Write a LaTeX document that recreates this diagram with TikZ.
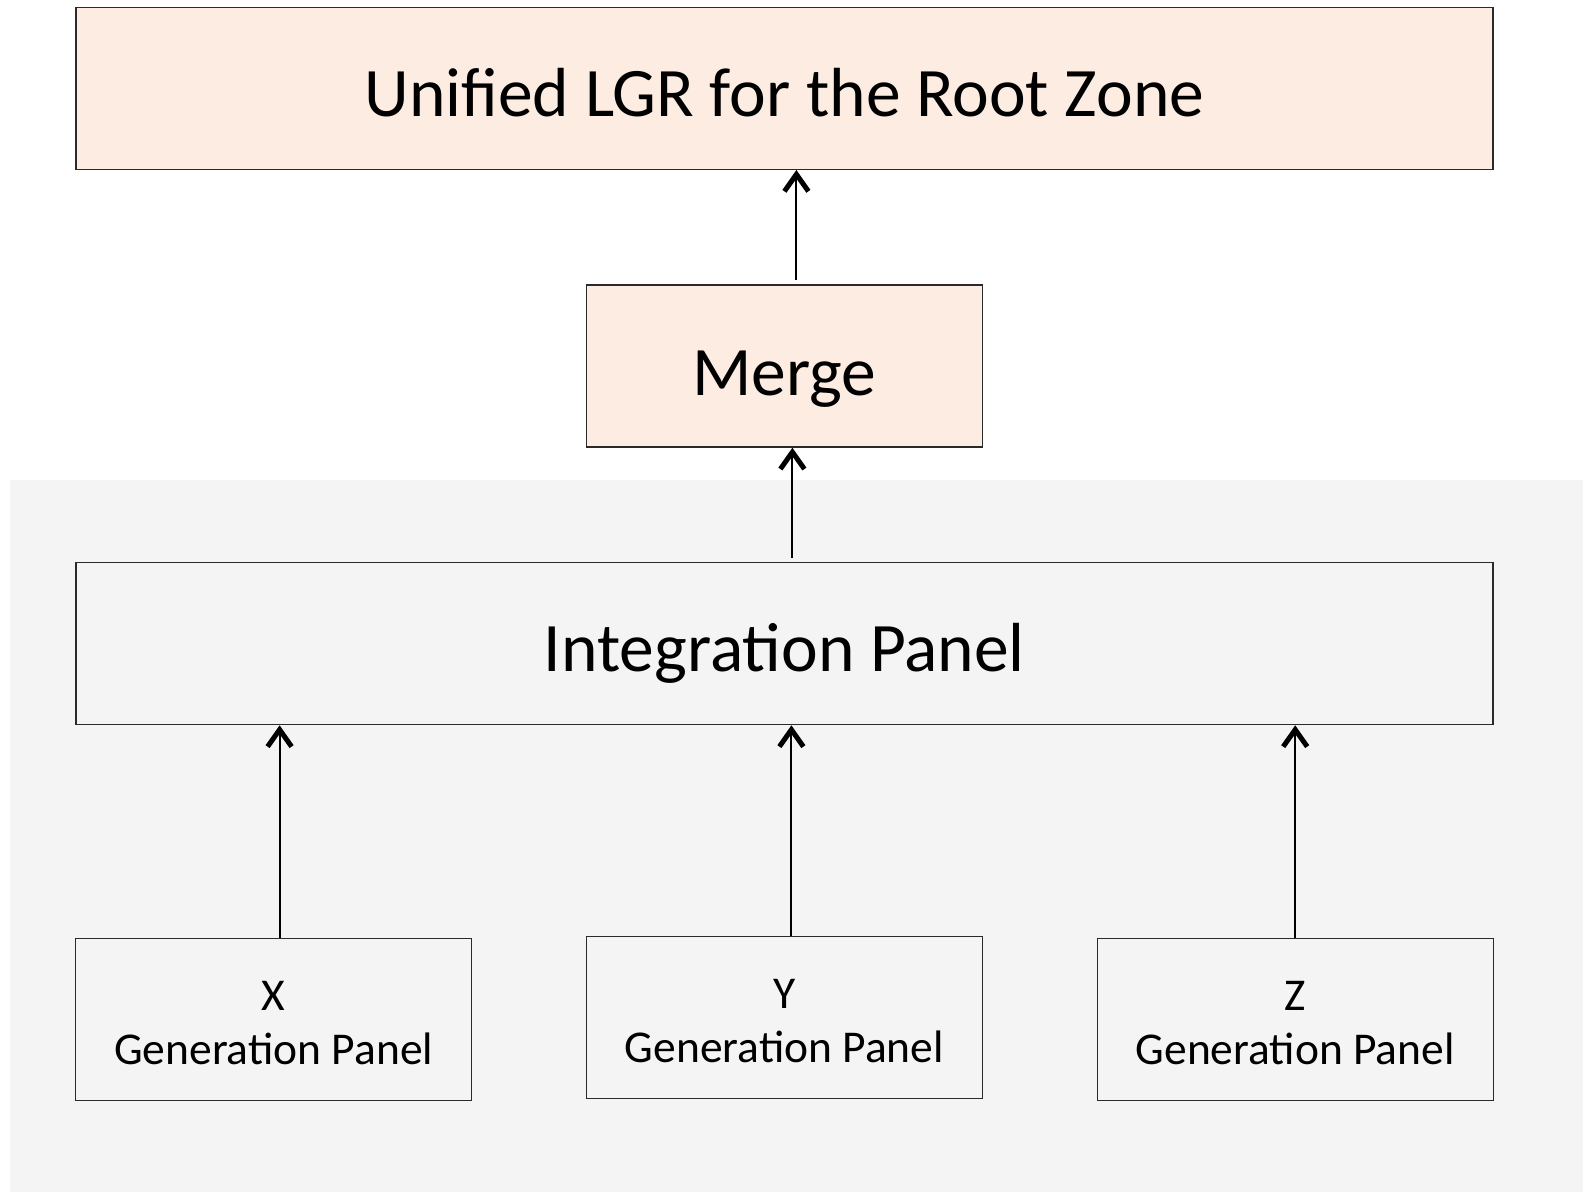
\documentclass[tikz,border=0pt]{standalone}
\usepackage{fontspec}
\setmainfont{Carlito}
\usetikzlibrary{arrows.meta}
\definecolor{peach}{HTML}{FDECE1}
\definecolor{panelbg}{HTML}{F4F4F4}
\definecolor{edge}{HTML}{2A2A2A}
\tikzset{
  box/.style={draw=edge, line width=1.4pt, rectangle, inner sep=0pt, align=center},
  bigtext/.style={font=\fontsize{69.5}{80}\selectfont},
  smalltext/.style={font=\fontsize{45.5}{54}\selectfont, align=center},
  arr/.style={line width=2pt, -{Straight Barb[length=17pt,width=24pt,line width=5pt]}}
}
\begin{document}
\begin{tikzpicture}[x=1pt,y=-1pt]
\useasboundingbox (0,0) rectangle (1583,1192);
\fill[white] (0,0) rectangle (1583,1192);
\fill[panelbg] (10,480) rectangle (1583,1192);
\node[box, fill=peach, minimum width=1417pt, minimum height=162pt] (top) at (784.4,88.3) {};
\node[bigtext] (toplabel) at ([yshift=-4pt]top.center) {Unified LGR for the Root Zone};
\node[box, fill=peach, minimum width=396pt, minimum height=162pt] (merge) at (784.4,366) {};
\node[bigtext] (mergelabel) at ([yshift=-13pt]merge.center) {Merge};
\node[box, minimum width=1417pt, minimum height=162pt] (int) at (784.4,643.6) {};
\node[bigtext] (intlabel) at ([yshift=-10pt]int.center) {Integration Panel};
\node[box, minimum width=396pt, minimum height=162pt] (x) at (273.6,1019.2) {};
\node[smalltext] (xlabel) at ([yshift=-4pt]x.center) {X\\Generation Panel};
\node[box, minimum width=396pt, minimum height=162pt] (y) at (784.4,1017.2) {};
\node[smalltext] (ylabel) at ([yshift=-4pt]y.center) {Y\\Generation Panel};
\node[box, minimum width=396pt, minimum height=162pt] (z) at (1295.2,1019.2) {};
\node[smalltext] (zlabel) at ([yshift=-4pt]z.center) {Z\\Generation Panel};
\draw[arr] ([xshift=12pt,yshift=4pt]merge.north) -- ([xshift=12pt]merge.north |- top.south);
\draw[arr] ([xshift=8pt,yshift=4pt]int.north -| merge.south) -- ([xshift=8pt]merge.south);
\draw[arr] ([xshift=6pt]x.north) -- ([xshift=6pt]x.north |- int.south);
\draw[arr] ([xshift=7pt]y.north) -- ([xshift=7pt]y.north |- int.south);
\draw[arr] ([xshift=0pt]z.north) -- ([xshift=0pt]z.north |- int.south);
\end{tikzpicture}
\end{document}
